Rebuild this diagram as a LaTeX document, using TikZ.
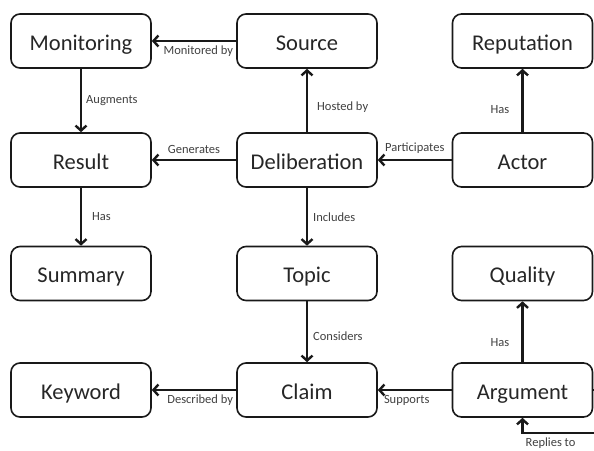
\documentclass[tikz,border=0pt]{standalone}
\usepackage{fontspec}
\setmainfont{Carlito}
\usetikzlibrary{arrows.meta}
\begin{document}
\begin{tikzpicture}[x=1pt, y=-1pt]
        \tikzstyle{entity}=[draw=black!90, line width=1.6pt, rounded corners=9pt, minimum width=140pt, minimum height=54pt, text height=19pt, text depth=1pt, font=\fontsize{22.5}{26}\selectfont, text=black!85]
        \tikzstyle{edge-node}=[font=\fontsize{12.5}{14}\selectfont, text=black!75, inner sep=2pt]
        \tikzstyle{relation}=[-{Straight Barb[length=5pt, width=11pt]}, line width=2.4pt, black!90]
        \useasboundingbox (0, 0) rectangle (594, 450);
        % \draw (0, 0) grid[step=50] (594, 450);
        \node[entity] (monitoring) at (81, 41) {Monitoring};
        \node[entity] (source) at (307, 41) {Source};
        \node[entity] (reputation) at (522.5, 41) {Reputation};
        \node[entity] (result) at (81, 160) {Result};
        \node[entity] (deliberation) at (307, 160) {Deliberation};
        \node[entity] (actor) at (522.5, 160) {Actor};
        \node[entity] (summary) at (81, 273.5) {Summary};
        \node[entity] (topic) at (307, 273.5) {Topic};
        \node[entity] (quality) at (522.5, 273.5) {Quality};
        \node[entity] (keyword) at (81, 390) {Keyword};
        \node[entity] (claim) at (307, 390) {Claim};
        \node[entity] (argument) at (522.5, 390) {Argument};
        \coordinate (loop-corner) at (522.5, 433);

        \draw[relation] (source) -- node[edge-node, below left, pos=0, yshift=-2pt] {Monitored by} (monitoring);
        \draw[relation] (monitoring) -- node[edge-node, right, xshift=2pt] {Augments} (result);
        \draw[relation] (deliberation) -- node[edge-node, right, pos=0.4, xshift=7pt] {Hosted by} (source);
        \draw[relation] (actor) -- node[edge-node, left, pos=0.35, xshift=-10pt] {Has} (reputation);
        \draw[relation] (deliberation) -- node[edge-node, above, yshift=3pt] {Generates} (result);
        \draw[relation] (actor) -- node[edge-node, above, yshift=3pt] {Participates} (deliberation);
        \draw[relation] (result) -- node[edge-node, right, xshift=8pt] {Has} (summary);
        \draw[relation] (deliberation) -- node[edge-node, right, xshift=3pt] {Includes} (topic);
        \draw[relation] (topic) -- node[edge-node, right, pos=0.58, xshift=3pt] {Considers} (claim);
        \draw[relation] (argument) -- node[edge-node, left, pos=0.33, xshift=-10pt] {Has} (quality);
        \draw[relation] (claim) -- node[edge-node, below left, pos=0, yshift=-2pt] {Described by} (keyword);
        \draw[relation] (argument) -- node[edge-node, below right, pos=1, xshift=3pt, yshift=-2pt] {Supports} (claim);
        \draw[relation] (argument.east) -- ++(30, 0) |- (loop-corner) node[edge-node, below right, yshift=-2pt] {Replies to} -- (argument.south);

    \end{tikzpicture}
\end{document}
